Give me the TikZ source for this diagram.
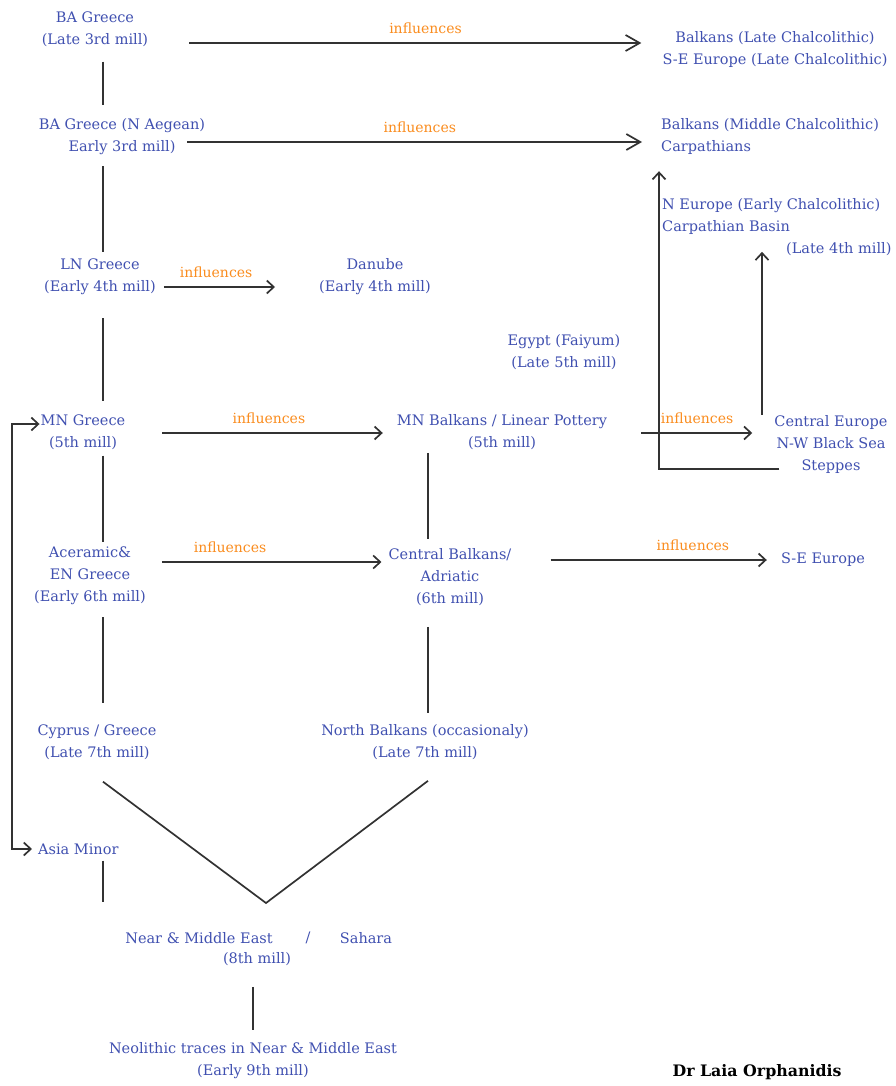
\documentclass[tikz,border=0pt]{standalone}
\usepackage{fontspec}
\setmainfont{DejaVu Serif}
\usetikzlibrary{arrows.meta}

\definecolor{placeblue}{RGB}{64,80,176}
\definecolor{inforange}{RGB}{250,140,30}
\definecolor{linkgray}{RGB}{50,50,50}

\tikzset{
  sbarb/.tip={Straight Barb[length=7pt,width=13pt]},
  bbarb/.tip={Straight Barb[length=14pt,width=16pt]},
  place/.style={text=placeblue, align=center, inner sep=5pt, font=\fontsize{14.5}{22}\selectfont},
  infl/.style={text=inforange, inner sep=0pt, above=8pt, font=\fontsize{14}{17}\selectfont},
  link/.style={draw=linkgray, line width=1.7pt},
  arr/.style={link, -sbarb},
  bigarr/.style={link, -bbarb},
}

\begin{document}
\begin{tikzpicture}[x=1pt,y=-1pt]
  \useasboundingbox (0,0) rectangle (895,1086);
  % columns for the vertical links
  \coordinate (colA) at (103,0);
  \coordinate (colB) at (428,0);
  \coordinate (colC) at (253,0);
  \coordinate (colD) at (762,0);
  \coordinate (loopx) at (12,0);

  % Greece
  \node[place] (ba) at (95,29) {BA Greece\\(Late 3rd mill)};
  \node[place] (baN) at (122,137) {BA Greece (N Aegean)\\Early 3rd mill)};
  \node[place] (ln) at (100,277) {LN Greece\\(Early 4th mill)};
  \node[place] (mn) at (83,432) {MN Greece\\(5th mill)};
  \node[place] (acer) at (90,576) {Aceramic\&\\EN Greece\\(Early 6th mill)};
  \node[place] (cyp) at (97,742) {Cyprus / Greece\\(Late 7th mill)};
  \node[place,anchor=west] (asia) at (33,849) {Asia Minor};

  % Balkans
  \node[place] (danube) at (375,277) {Danube\\(Early 4th mill)};
  \node[place] (egypt) at (564,352) {Egypt (Faiyum)\\(Late 5th mill)};
  \node[place] (mnb) at (502,432) {MN Balkans / Linear Pottery\\(5th mill)};
  \node[place] (cbal) at (450,577) {Central Balkans/\\Adriatic\\(6th mill)};
  \node[place] (nbal) at (425,742) {North Balkans (occasionaly)\\(Late 7th mill)};

  % Europe
  \node[place] (balkL) at (775,50) {Balkans (Late Chalcolithic)\\S-E Europe (Late Chalcolithic)};
  \node[place,align=left,anchor=west] (balkM) at (656,137) {Balkans (Middle Chalcolithic)\\Carpathians};
  \node[place,align=left,anchor=west] (neur) at (657,227) {N Europe (Early Chalcolithic)\\Carpathian Basin\\\hspace*{124pt}(Late 4th mill)};
  \node[place] (cent) at (831,444) {Central Europe\\N-W Black Sea\\Steppes};
  \node[place] (se) at (823,560) {S-E Europe};

  % origins
  \node[place] (near) at (199,938) {Near \& Middle East};
  \node[place] (slash) at (308,938) {/};
  \node[place] (sahara) at (366,938) {Sahara};
  \node[place] (near8) at (257,959) {(8th mill)};
  \node[place] (neo) at (253,1061) {Neolithic traces in Near \& Middle East\\(Early 9th mill)};
  \node[font=\bfseries\fontsize{15.8}{19}\selectfont] (author) at (757,1072) {Dr Laia Orphanidis};

  % influences
  \draw[bigarr,shorten <=36pt,shorten >=16pt] (ba.east |- 0,43) -- (balkL.west |- 0,43) node[infl,pos=0.54] {influences};
  \draw[bigarr,shorten <=-23pt,shorten >=14pt] (baN.east |- 0,142) -- (balkM.west |- 0,142) node[infl,pos=0.47] {influences};
  \draw[arr,shorten <=3pt,shorten >=39pt] (ln.east |- 0,287) -- (danube.west |- 0,287) node[infl,pos=0.36] {influences};
  \draw[arr,shorten <=32pt,shorten >=9pt] (mn.east |- 0,433) -- (mnb.west |- 0,433) node[infl,pos=0.53] {influences};
  \draw[arr,shorten <=29pt,shorten >=17pt] (mnb.east |- 0,433) -- (cent.west |- 0,433) node[infl,pos=0.54] {influences};
  \draw[arr,shorten <=11pt,shorten >=2pt] (acer.east |- 0,562) -- (cbal.west |- 0,562) node[infl,pos=0.34] {influences};
  \draw[arr,shorten <=34pt,shorten >=9pt] (cbal.east |- 0,560) -- (se.west |- 0,560) node[infl,pos=0.68] {influences};

  % Central Europe upwards
  \draw[arr,shorten <=-5pt,shorten >=-9pt] (colD |- cent.north) -- (colD |- neur.south);
  \draw[arr,shorten <=-10pt,shorten >=11pt] (cent.west |- 0,469) -| ([xshift=3pt]balkM.south west);

  % time lines
  \draw[link,shorten <=10pt,shorten >=9pt] (colA |- ba.south) -- (colA |- baN.north);
  \draw[link,shorten <=6pt,shorten >=2pt] (colA |- baN.south) -- (colA |- ln.north);
  \draw[link,shorten <=18pt,shorten >=8pt] (colA |- ln.south) -- (colA |- mn.north);
  \draw[link,shorten <=1pt] (colA |- mn.south) -- (colA |- acer.north);
  \draw[link,shorten <=7pt,shorten >=16pt] (colA |- acer.south) -- (colA |- cyp.north);
  \draw[link,shorten <=-2pt,shorten >=4pt] (colB |- mnb.south) -- (colB |- cbal.north);
  \draw[link,shorten <=16pt,shorten >=6pt] (colB |- cbal.south) -- (colB |- nbal.north);

  % meeting in the east
  \coordinate (vtip) at (266,903);
  \coordinate (aend) at (103,902);
  \draw[link] ([yshift=-17pt]colA |- cyp.south) -- (vtip) -- ([yshift=-16pt]colB |- nbal.south);
  \draw[link,shorten <=1pt] (colA |- asia.south) -- (aend);
  \draw[link,shorten <=16pt,shorten >=8pt] (colC |- near8.south) -- (colC |- neo.north);

  % Asia Minor loop
  \draw[link,sbarb-sbarb,shorten <=1pt,shorten >=-4pt] (asia.west) -- (loopx |- asia.west) -- (loopx |- 0,424) -- (mn.west |- 0,424);
\end{tikzpicture}
\end{document}
